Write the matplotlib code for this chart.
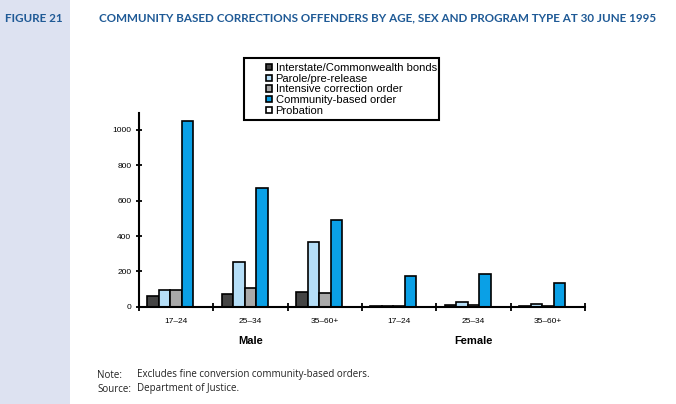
import matplotlib
matplotlib.use("Agg")
import matplotlib.pyplot as plt
from matplotlib.patches import Rectangle, Patch
import numpy as np

groups = ["17–24", "25–34", "35–60+", "17–24", "25–34", "35–60+"]
sexes = ["Male", "Female"]
series = ["Interstate/Commonwealth bonds", "Parole/pre-release",
          "Intensive correction order", "Community-based order", "Probation"]
interstate = [60, 70, 83, 5, 8, 6]
parole = [95, 255, 365, 3, 28, 18]
intensive = [95, 104, 76, 3, 8, 4]
community = [1050, 670, 492, 175, 185, 132]
probation = [0, 0, 0, 0, 0, 0]
colors = ["#444444", "#b5def7", "#a9a9a9", "#0aa0e6", "#ffffff"]

title_family = "Lato"

W, H = 676, 404
fig = plt.figure(figsize=(W / 100, H / 100), dpi=100)
fig.patch.set_facecolor("white")

# left sidebar
fig.patches.append(Rectangle((0, 0), 70 / W, 1, transform=fig.transFigure,
                             facecolor="#dde2f1", edgecolor="none", zorder=0))
title_color = "#1f5a96"
t1 = fig.text(5 / W, 1 - 18 / H, "FIGURE 21", color=title_color, fontsize=9.5,
              fontweight="bold", family=title_family, va="center", ha="left")
t2 = fig.text(99 / W, 1 - 18 / H,
              "COMMUNITY BASED CORRECTIONS OFFENDERS BY AGE, SEX AND PROGRAM TYPE AT 30 JUNE 1995",
              color=title_color, fontsize=9.5, fontweight="bold", family=title_family,
              va="center", ha="left")

# fit title widths to the reference
fig.canvas.draw()
r = fig.canvas.get_renderer()
for t, target in ((t1, 58), (t2, 565)):
    w = t.get_window_extent(r).width
    t.set_fontsize(t.get_fontsize() * target / w)

x0, x1 = 139, 585
y0, y1 = 306.7, 113
ax = fig.add_axes([x0 / W, 1 - y0 / H, (x1 - x0) / W, (y0 - y1) / H])
ax.set_xlim(0, 6)
ax.set_ylim(0, 1096)

data = [interstate, parole, intensive, community, probation]
bw = 0.155
start = 0.5 - 2.5 * bw
xs = np.arange(len(groups))
for i, (vals, c, lab) in enumerate(zip(data, colors, series)):
    ax.bar(xs + start + i * bw, vals, width=bw, align="edge", color=c,
           edgecolor="black", linewidth=1.2, label=lab, zorder=3)

for s in ["top", "right"]:
    ax.spines[s].set_visible(False)
for s in ["left", "bottom"]:
    ax.spines[s].set_linewidth(1.5)
    ax.spines[s].set_zorder(4)

ax.set_yticks([0, 200, 400, 600, 800, 1000])
ax.set_yticklabels(["0", "200", "400", "600", "800", "1000"],
                   family="Liberation Sans", fontsize=6)
ax.tick_params(axis="y", direction="inout", length=5, width=1.3, pad=3)
ax.set_xticks(range(0, 7))
ax.set_xticklabels([])
ax.tick_params(axis="x", direction="inout", length=6, width=1.3)
for i, g in enumerate(groups):
    ax.text(i + 0.5, -62, g, ha="center", va="top", family="Liberation Sans",
            fontsize=6)
ax.text(1.5, -165, "Male", ha="center", va="top", family="Liberation Sans",
        fontsize=8, fontweight="bold")
ax.text(4.5, -165, "Female", ha="center", va="top", family="Liberation Sans",
        fontsize=8, fontweight="bold")

# legend box
fig.patches.append(Rectangle((244 / W, 1 - 120 / H), (439 - 244) / W, (120 - 58) / H,
                             transform=fig.transFigure, facecolor="white",
                             edgecolor="black", linewidth=1.5, zorder=5))
handles = [Patch(facecolor=c, edgecolor="black", linewidth=1.2) for c in colors]
leg = fig.legend(handles, series, loc="upper left",
                 bbox_to_anchor=(265 / W, 1 - 62 / H),
                 prop={"family": "Liberation Sans", "size": 8},
                 frameon=False,
                 handlelength=0.5, handleheight=0.5, handletextpad=0.35,
                 labelspacing=0.06, borderpad=0.1, borderaxespad=0)
leg.set_zorder(6)

note_kw = dict(fontsize=7, family="Open Sans", va="center", color="#222222")
fig.text(97 / W, 1 - 375 / H, "Note:", **note_kw)
fig.text(137 / W, 1 - 375 / H, "Excludes fine conversion community-based orders.", **note_kw)
fig.text(97 / W, 1 - 389 / H, "Source:", **note_kw)
fig.text(137 / W, 1 - 389 / H, "Department of Justice.", **note_kw)

fig.savefig("out.png", dpi=100)
